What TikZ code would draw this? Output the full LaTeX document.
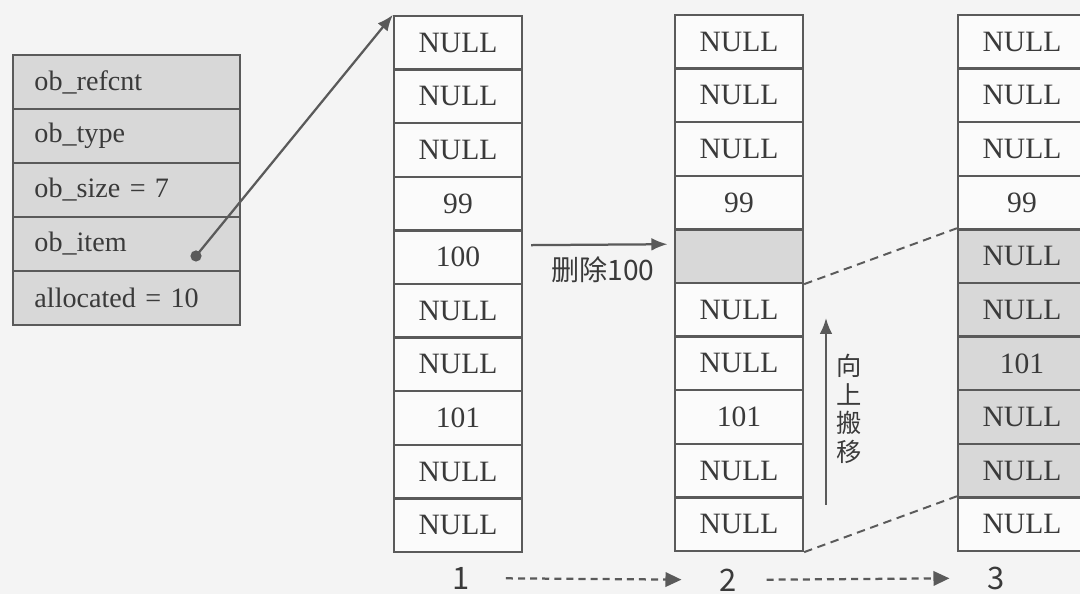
\documentclass[tikz,border=0pt]{standalone}
\usepackage{fontspec}
\setmainfont{Liberation Serif}
\newfontfamily\cjk{Noto Sans CJK SC}
\usepackage{tikz}
\usetikzlibrary{arrows.meta,positioning,calc}

\definecolor{ln}{HTML}{5A5A5A}
\definecolor{tx}{HTML}{3A3A3A}
\definecolor{shd}{HTML}{D8D8D8}
\definecolor{bg}{HTML}{F4F4F4}

\begin{document}
\begin{tikzpicture}[x=0.0125cm,y=-0.0125cm,font=\fontsize{10.5}{12}\selectfont,text=tx,
  cell/.style={draw=ln,line width=0.8pt,fill=white!60!bg,minimum width=1.6cm,minimum height=0.67cm,inner sep=0pt},
  gcell/.style={cell,fill=shd},
  fld/.style={draw=ln,line width=0.8pt,fill=shd,minimum width=2.84cm,minimum height=0.675cm,
    text width=2.3cm,align=left,inner xsep=0.27cm,inner ysep=0pt,font=\fontsize{10}{12}\selectfont},
  ar/.style={draw=ln,line width=0.8pt,-{Latex[length=2mm,width=1.6mm]}},
  dar/.style={draw=ln,line width=0.8pt,dash pattern=on 2.5pt off 1.8pt,-{Triangle[length=2mm,width=1.8mm]}},
  dl/.style={draw=ln,line width=0.7pt,dash pattern=on 3pt off 2pt},
  lab/.style={font=\cjk\fontsize{10}{12}\selectfont,text=tx}]
\useasboundingbox (0,0) rectangle (1080,594);
\fill[bg] (0,0) rectangle (1080,594);
\clip (0,0) rectangle (1080,594);

% list object
\node[fld] (f1) at (126.5,82)  {ob\_refcnt};
\node[fld] (f2) at (126.5,136) {ob\_type};
\node[fld] (f3) at (126.5,190) {ob\_size = 7};
\node[fld] (f4) at (126.5,244) {ob\_item};
\node[fld] (f5) at (126.5,298) {allocated = 10};
\coordinate (dt) at (196,256);

% array 1
\node[cell] (a1)  at (458,42.8)  {NULL};
\node[cell] (a2)  at (458,96.4)  {NULL};
\node[cell] (a3)  at (458,150)   {NULL};
\node[cell] (a4)  at (458,203.6) {99};
\node[cell] (a5)  at (458,257.2) {100};
\node[cell] (a6)  at (458,310.8) {NULL};
\node[cell] (a7)  at (458,364.4) {NULL};
\node[cell] (a8)  at (458,418)   {101};
\node[cell] (a9)  at (458,471.6) {NULL};
\node[cell] (a10) at (458,525.2) {NULL};

% array 2
\node[cell]  (b1)  at (739,41.8)  {NULL};
\node[cell]  (b2)  at (739,95.4)  {NULL};
\node[cell]  (b3)  at (739,149)   {NULL};
\node[cell]  (b4)  at (739,202.6) {99};
\node[gcell] (b5)  at (739,256.2) {};
\node[cell]  (b6)  at (739,309.8) {NULL};
\node[cell]  (b7)  at (739,363.4) {NULL};
\node[cell]  (b8)  at (739,417)   {101};
\node[cell]  (b9)  at (739,470.6) {NULL};
\node[cell]  (b10) at (739,524.2) {NULL};

% array 3
\node[cell]  (c1)  at (1022,41.8)  {NULL};
\node[cell]  (c2)  at (1022,95.4)  {NULL};
\node[cell]  (c3)  at (1022,149)   {NULL};
\node[cell]  (c4)  at (1022,202.6) {99};
\node[gcell] (c5)  at (1022,256.2) {NULL};
\node[gcell] (c6)  at (1022,309.8) {NULL};
\node[gcell] (c7)  at (1022,363.4) {101};
\node[gcell] (c8)  at (1022,417)   {NULL};
\node[gcell] (c9)  at (1022,470.6) {NULL};
\node[cell]  (c10) at (1022,524.2) {NULL};

% pointer
\fill[ln] (dt) circle (0.07cm);
\draw[ar] (dt) -- (a1.north west);

% step labels
\draw[ar,shorten <=0.1cm,shorten >=0.08cm] ([yshift=0.15cm]a5.east) -- ([yshift=0.15cm]b5.west);
\node[lab] (del) at (603,270) {删除100};
\draw[dl] (b5.south east) -- (c5.north west);
\draw[dl] (b10.south east) -- (c10.north west);
\coordinate (up0) at (826,505);
\coordinate (up1) at (826,318);
\draw[ar] (up0) -- (up1);
\node[lab,font=\cjk\fontsize{9}{10.2}\selectfont,align=center] (mv) at (849,409) {向\\上\\搬\\移};

\node[lab,font=\cjk\fontsize{11}{13}\selectfont] (n1) at (461,578) {1};
\node[lab,font=\cjk\fontsize{11}{13}\selectfont] (n2) at (728,580) {2};
\node[lab,font=\cjk\fontsize{11}{13}\selectfont] (n3) at (996,578) {3};
\draw[dar,shorten <=0.33cm,shorten >=0.35cm] (n1) -- (n2);
\draw[dar,shorten <=0.25cm,shorten >=0.35cm] (n2) -- (n3);
\end{tikzpicture}
\end{document}
